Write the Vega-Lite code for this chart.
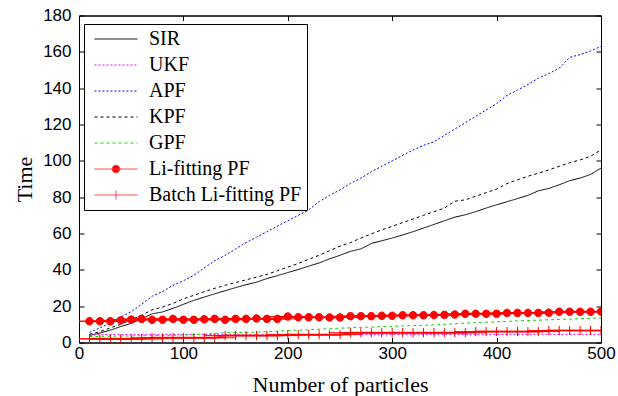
{
  "$schema": "https://vega.github.io/schema/vega-lite/v6.json",
  "autosize": "none",
  "width": 522,
  "height": 327,
  "padding": {"left": 79, "top": 15.5, "right": 17, "bottom": 53.5},
  "background": "white",
  "config": {
    "view": {"stroke": "black", "strokeWidth": 1},
    "axis": {
      "grid": false,
      "domainColor": "black",
      "tickColor": "black",
      "labelColor": "black",
      "titleColor": "black",
      "labelFont": "Liberation Sans",
      "labelFontSize": 17,
      "titleFont": "Liberation Serif",
      "titleFontSize": 22,
      "titleFontWeight": "normal",
      "tickSize": -5,
      "labelFlush": false,
      "labelOverlap": false
    },
    "legend": {
      "title": null,
      "orient": "none",
      "legendX": 5,
      "legendY": 8.5,
      "strokeColor": "black",
      "fillColor": "white",
      "padding": 5,
      "symbolOffset": 17,
      "labelFont": "Liberation Serif",
      "labelFontSize": 20,
      "labelColor": "black",
      "labelLimit": 400,
      "labelOffset": 23,
      "rowPadding": 6,
      "symbolSize": 115.6,
      "symbolStrokeWidth": 1
    }
  },
  "data": {
    "values": [
      {"n": 10, "SIR": 3.9, "UKF": 4.0, "APF": 5.5, "KPF": 4.5, "GPF": 3.3, "Li-fitting PF": 11.7, "Batch Li-fitting PF": 2.0},
      {"n": 20, "SIR": 5.2, "UKF": 4.3, "APF": 8.0, "KPF": 6.0, "GPF": 3.3, "Li-fitting PF": 11.7, "Batch Li-fitting PF": 2.0},
      {"n": 30, "SIR": 6.8, "UKF": 4.4, "APF": 11.0, "KPF": 8.0, "GPF": 3.5, "Li-fitting PF": 11.7, "Batch Li-fitting PF": 2.0},
      {"n": 40, "SIR": 8.8, "UKF": 4.4, "APF": 14.0, "KPF": 10.0, "GPF": 3.5, "Li-fitting PF": 12.2, "Batch Li-fitting PF": 2.0},
      {"n": 50, "SIR": 10.5, "UKF": 4.3, "APF": 17.0, "KPF": 12.5, "GPF": 3.6, "Li-fitting PF": 12.6, "Batch Li-fitting PF": 2.0},
      {"n": 60, "SIR": 13.0, "UKF": 4.4, "APF": 21.0, "KPF": 15.0, "GPF": 3.7, "Li-fitting PF": 13.0, "Batch Li-fitting PF": 2.0},
      {"n": 70, "SIR": 15.8, "UKF": 4.5, "APF": 25.5, "KPF": 18.0, "GPF": 3.8, "Li-fitting PF": 12.5, "Batch Li-fitting PF": 2.6},
      {"n": 80, "SIR": 16.8, "UKF": 4.4, "APF": 28.0, "KPF": 19.5, "GPF": 3.9, "Li-fitting PF": 12.5, "Batch Li-fitting PF": 2.6},
      {"n": 90, "SIR": 18.8, "UKF": 4.4, "APF": 31.5, "KPF": 21.5, "GPF": 4.0, "Li-fitting PF": 13.0, "Batch Li-fitting PF": 2.6},
      {"n": 100, "SIR": 21.0, "UKF": 4.5, "APF": 34.0, "KPF": 24.0, "GPF": 4.1, "Li-fitting PF": 12.5, "Batch Li-fitting PF": 2.6},
      {"n": 110, "SIR": 23.2, "UKF": 4.4, "APF": 37.0, "KPF": 26.0, "GPF": 4.3, "Li-fitting PF": 12.5, "Batch Li-fitting PF": 2.6},
      {"n": 120, "SIR": 25.0, "UKF": 4.5, "APF": 41.0, "KPF": 28.0, "GPF": 4.6, "Li-fitting PF": 12.8, "Batch Li-fitting PF": 2.6},
      {"n": 130, "SIR": 26.8, "UKF": 4.4, "APF": 45.0, "KPF": 29.8, "GPF": 5.0, "Li-fitting PF": 13.0, "Batch Li-fitting PF": 2.6},
      {"n": 140, "SIR": 28.5, "UKF": 4.5, "APF": 48.0, "KPF": 31.5, "GPF": 5.3, "Li-fitting PF": 12.5, "Batch Li-fitting PF": 3.8},
      {"n": 150, "SIR": 30.2, "UKF": 4.5, "APF": 51.5, "KPF": 33.0, "GPF": 5.5, "Li-fitting PF": 13.0, "Batch Li-fitting PF": 3.8},
      {"n": 160, "SIR": 31.8, "UKF": 4.4, "APF": 55.0, "KPF": 34.5, "GPF": 5.5, "Li-fitting PF": 13.0, "Batch Li-fitting PF": 3.8},
      {"n": 170, "SIR": 33.2, "UKF": 4.5, "APF": 58.0, "KPF": 36.0, "GPF": 5.7, "Li-fitting PF": 13.2, "Batch Li-fitting PF": 3.8},
      {"n": 180, "SIR": 35.2, "UKF": 4.5, "APF": 61.0, "KPF": 37.5, "GPF": 5.9, "Li-fitting PF": 13.0, "Batch Li-fitting PF": 3.8},
      {"n": 190, "SIR": 36.8, "UKF": 4.4, "APF": 64.0, "KPF": 39.5, "GPF": 6.3, "Li-fitting PF": 13.0, "Batch Li-fitting PF": 3.8},
      {"n": 200, "SIR": 38.5, "UKF": 4.5, "APF": 67.0, "KPF": 41.5, "GPF": 6.6, "Li-fitting PF": 14.3, "Batch Li-fitting PF": 4.3},
      {"n": 210, "SIR": 40.2, "UKF": 4.5, "APF": 70.0, "KPF": 43.5, "GPF": 6.8, "Li-fitting PF": 13.9, "Batch Li-fitting PF": 4.3},
      {"n": 220, "SIR": 42.0, "UKF": 4.4, "APF": 73.0, "KPF": 45.8, "GPF": 7.0, "Li-fitting PF": 13.9, "Batch Li-fitting PF": 4.3},
      {"n": 230, "SIR": 43.8, "UKF": 4.5, "APF": 77.5, "KPF": 48.0, "GPF": 7.3, "Li-fitting PF": 13.9, "Batch Li-fitting PF": 4.3},
      {"n": 240, "SIR": 46.0, "UKF": 4.5, "APF": 81.0, "KPF": 50.5, "GPF": 7.6, "Li-fitting PF": 13.8, "Batch Li-fitting PF": 4.3},
      {"n": 250, "SIR": 48.0, "UKF": 4.4, "APF": 84.0, "KPF": 53.0, "GPF": 7.9, "Li-fitting PF": 13.8, "Batch Li-fitting PF": 4.3},
      {"n": 260, "SIR": 50.2, "UKF": 4.5, "APF": 87.5, "KPF": 55.0, "GPF": 8.1, "Li-fitting PF": 14.5, "Batch Li-fitting PF": 5.4},
      {"n": 270, "SIR": 51.5, "UKF": 4.5, "APF": 90.5, "KPF": 57.5, "GPF": 8.3, "Li-fitting PF": 14.5, "Batch Li-fitting PF": 5.4},
      {"n": 280, "SIR": 54.5, "UKF": 4.4, "APF": 94.0, "KPF": 59.8, "GPF": 8.5, "Li-fitting PF": 14.5, "Batch Li-fitting PF": 5.4},
      {"n": 290, "SIR": 56.0, "UKF": 4.5, "APF": 97.0, "KPF": 62.0, "GPF": 8.7, "Li-fitting PF": 14.7, "Batch Li-fitting PF": 5.4},
      {"n": 300, "SIR": 57.5, "UKF": 4.5, "APF": 100.0, "KPF": 64.0, "GPF": 8.9, "Li-fitting PF": 14.7, "Batch Li-fitting PF": 5.4},
      {"n": 310, "SIR": 59.2, "UKF": 4.4, "APF": 103.0, "KPF": 66.0, "GPF": 9.1, "Li-fitting PF": 15.0, "Batch Li-fitting PF": 5.4},
      {"n": 320, "SIR": 61.0, "UKF": 4.5, "APF": 106.0, "KPF": 68.0, "GPF": 9.3, "Li-fitting PF": 15.0, "Batch Li-fitting PF": 5.4},
      {"n": 330, "SIR": 63.0, "UKF": 4.5, "APF": 108.5, "KPF": 70.0, "GPF": 9.5, "Li-fitting PF": 15.0, "Batch Li-fitting PF": 5.4},
      {"n": 340, "SIR": 65.0, "UKF": 4.4, "APF": 110.5, "KPF": 72.0, "GPF": 9.7, "Li-fitting PF": 15.1, "Batch Li-fitting PF": 5.4},
      {"n": 350, "SIR": 67.0, "UKF": 4.5, "APF": 114.0, "KPF": 74.0, "GPF": 10.0, "Li-fitting PF": 15.2, "Batch Li-fitting PF": 5.4},
      {"n": 360, "SIR": 69.0, "UKF": 4.5, "APF": 117.5, "KPF": 77.8, "GPF": 10.3, "Li-fitting PF": 15.4, "Batch Li-fitting PF": 5.4},
      {"n": 370, "SIR": 70.3, "UKF": 4.4, "APF": 121.0, "KPF": 78.5, "GPF": 10.7, "Li-fitting PF": 15.8, "Batch Li-fitting PF": 5.4},
      {"n": 380, "SIR": 72.0, "UKF": 4.5, "APF": 124.5, "KPF": 80.5, "GPF": 11.0, "Li-fitting PF": 15.8, "Batch Li-fitting PF": 6.0},
      {"n": 390, "SIR": 74.0, "UKF": 4.5, "APF": 128.0, "KPF": 82.5, "GPF": 11.2, "Li-fitting PF": 15.8, "Batch Li-fitting PF": 6.0},
      {"n": 400, "SIR": 75.8, "UKF": 4.4, "APF": 131.5, "KPF": 84.4, "GPF": 11.4, "Li-fitting PF": 15.8, "Batch Li-fitting PF": 6.0},
      {"n": 410, "SIR": 77.5, "UKF": 4.5, "APF": 136.0, "KPF": 87.5, "GPF": 11.6, "Li-fitting PF": 16.3, "Batch Li-fitting PF": 6.0},
      {"n": 420, "SIR": 79.2, "UKF": 4.5, "APF": 139.0, "KPF": 89.5, "GPF": 11.9, "Li-fitting PF": 16.3, "Batch Li-fitting PF": 6.0},
      {"n": 430, "SIR": 81.0, "UKF": 4.4, "APF": 142.0, "KPF": 91.5, "GPF": 12.1, "Li-fitting PF": 16.3, "Batch Li-fitting PF": 6.0},
      {"n": 440, "SIR": 83.5, "UKF": 4.5, "APF": 145.5, "KPF": 93.2, "GPF": 12.3, "Li-fitting PF": 16.3, "Batch Li-fitting PF": 6.0},
      {"n": 450, "SIR": 84.8, "UKF": 4.5, "APF": 148.0, "KPF": 95.0, "GPF": 12.5, "Li-fitting PF": 16.4, "Batch Li-fitting PF": 6.6},
      {"n": 460, "SIR": 86.8, "UKF": 4.4, "APF": 151.0, "KPF": 97.0, "GPF": 12.7, "Li-fitting PF": 16.9, "Batch Li-fitting PF": 6.6},
      {"n": 470, "SIR": 89.1, "UKF": 4.5, "APF": 157.0, "KPF": 99.0, "GPF": 12.9, "Li-fitting PF": 16.9, "Batch Li-fitting PF": 6.6},
      {"n": 480, "SIR": 90.5, "UKF": 4.5, "APF": 158.5, "KPF": 100.5, "GPF": 13.1, "Li-fitting PF": 16.9, "Batch Li-fitting PF": 6.6},
      {"n": 490, "SIR": 92.5, "UKF": 4.4, "APF": 160.5, "KPF": 102.5, "GPF": 13.3, "Li-fitting PF": 16.9, "Batch Li-fitting PF": 6.6},
      {"n": 500, "SIR": 96.0, "UKF": 4.5, "APF": 163.0, "KPF": 106.0, "GPF": 13.5, "Li-fitting PF": 17.0, "Batch Li-fitting PF": 6.6}
    ]
  },
  "transform": [
    {"fold": ["SIR", "UKF", "APF", "KPF", "GPF", "Li-fitting PF", "Batch Li-fitting PF"], "as": ["series", "t"]}
  ],
  "layer": [
    {
      "mark": {"type": "line", "clip": true},
      "encoding": {
        "x": {
          "field": "n", "type": "quantitative",
          "scale": {"domain": [0, 500], "nice": false},
          "axis": {
            "orient": "bottom",
            "values": [0, 100, 200, 300, 400, 500],
            "title": "Number of particles",
            "titleY": 48.5,
            "titleBaseline": "alphabetic",
            "labelPadding": 7.7
          }
        },
        "y": {
          "field": "t", "type": "quantitative",
          "scale": {"domain": [0, 180], "nice": false},
          "axis": {
            "orient": "left",
            "values": [0, 20, 40, 60, 80, 100, 120, 140, 160, 180],
            "title": "Time",
            "titleX": -48,
            "titleAngle": 270,
            "titleBaseline": "alphabetic",
            "labelPadding": 13
          }
        },
        "color": {
          "field": "series", "type": "nominal",
          "scale": {
            "domain": ["SIR", "UKF", "APF", "KPF", "GPF", "Li-fitting PF", "Batch Li-fitting PF"],
            "range": ["#000000", "#ff00ff", "#0000ff", "#000000", "#00dd00", "#ff3333", "#ff3333"]
          },
          "legend": {"title": null, "orient": "none", "legendX": 5, "legendY": 8.5}
        },
        "strokeDash": {
          "field": "series", "type": "nominal",
          "scale": {
            "domain": ["SIR", "UKF", "APF", "KPF", "GPF", "Li-fitting PF", "Batch Li-fitting PF"],
            "range": [[1, 0], [2, 2], [2, 2], [3, 3], [3, 3], [1, 0], [1, 0]]
          },
          "legend": {"title": null, "orient": "none", "legendX": 5, "legendY": 8.5}
        },
        "strokeWidth": {
          "condition": {"test": "indexof(datum.series, 'Li-fitting') >= 0", "value": 2},
          "value": 1
        }
      }
    },
    {
      "transform": [{"filter": {"field": "series", "oneOf": ["Li-fitting PF", "Batch Li-fitting PF"]}}],
      "mark": {"type": "point", "size": 115.6, "stroke": "#ff0000", "strokeWidth": 1, "opacity": 1, "clip": true},
      "encoding": {
        "x": {"field": "n", "type": "quantitative", "axis": {"orient": "top", "labels": false, "title": null, "values": [0, 100, 200, 300, 400, 500]}},
        "y": {"field": "t", "type": "quantitative", "axis": {"orient": "right", "labels": false, "title": null, "values": [0, 20, 40, 60, 80, 100, 120, 140, 160, 180]}},
        "shape": {
          "field": "series", "type": "nominal",
          "scale": {
            "domain": ["SIR", "UKF", "APF", "KPF", "GPF", "Li-fitting PF", "Batch Li-fitting PF"],
            "range": ["M-4,0L4,0", "M-4,0L4,0", "M-4,0L4,0", "M-4,0L4,0", "M-4,0L4,0", "M-4,0L4,0M-0.7,0A0.7,0.7,0,1,1,0.7,0A0.7,0.7,0,1,1,-0.7,0Z", "M-4,0L4,0M0,-0.85L0,0.85"]
          },
          "legend": {"title": null, "orient": "none", "legendX": 5, "legendY": 8.5}
        },
        "fill": {
          "field": "series", "type": "nominal",
          "scale": {
            "domain": ["SIR", "UKF", "APF", "KPF", "GPF", "Li-fitting PF", "Batch Li-fitting PF"],
            "range": ["transparent", "transparent", "transparent", "transparent", "transparent", "#ff0000", "transparent"]
          },
          "legend": {"title": null, "orient": "none", "legendX": 5, "legendY": 8.5}
        }
      }
    }
  ],
  "resolve": {"axis": {"x": "independent", "y": "independent"}}
}
